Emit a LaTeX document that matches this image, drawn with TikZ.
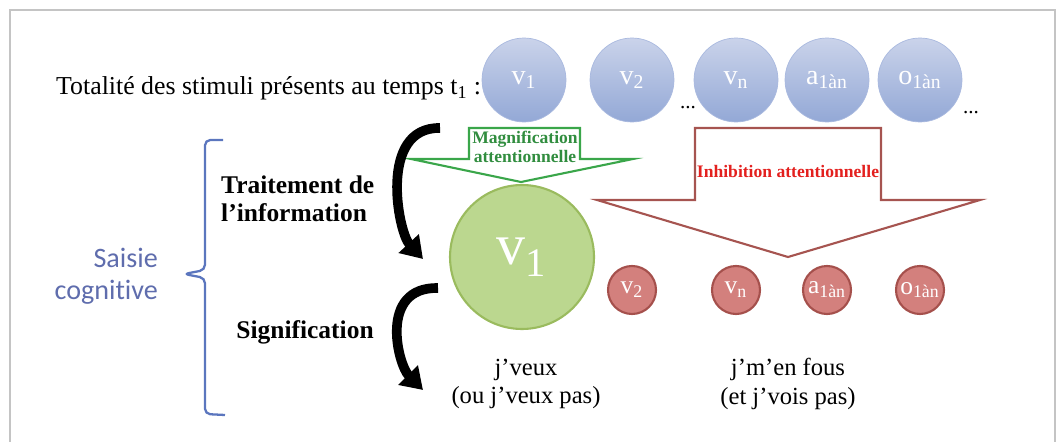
\documentclass[tikz,border=0pt]{standalone}
\usepackage{fontspec}
\setmainfont{Liberation Serif}
\newfontfamily\calib[Ligatures=NoCommon]{Carlito}
\usetikzlibrary{arrows.meta,positioning}
\definecolor{bluetop}{HTML}{CAD3EA}
\definecolor{bluebot}{HTML}{93A8D6}
\definecolor{bluerim}{HTML}{A9B9DF}
\definecolor{greenfill}{HTML}{BBD78F}
\definecolor{greenrim}{HTML}{9ABB5E}
\definecolor{redfill}{HTML}{D3807D}
\definecolor{redrim}{HTML}{A5504C}
\definecolor{magline}{HTML}{3AA64A}
\definecolor{inhline}{HTML}{A65450}
\definecolor{inhtext}{HTML}{E3201E}
\definecolor{saisie}{HTML}{5F6DAD}
\definecolor{brace}{HTML}{5B76BE}
\definecolor{frame}{HTML}{C4C4C4}
\begin{document}
\begin{tikzpicture}[x=0.02cm,y=-0.02cm,>=Stealth,
  stim/.style={circle,draw=bluerim,top color=bluetop,bottom color=bluebot,minimum size=1.68cm,inner sep=0pt,text=white,font=\fontsize{16}{16}\selectfont},
  kept/.style={circle,draw=greenrim,line width=1.2pt,fill=greenfill,minimum size=2.88cm,inner sep=0pt,text=white,font=\fontsize{33}{33}\selectfont},
  lost/.style={circle,draw=redrim,line width=1.2pt,fill=redfill,minimum size=0.96cm,inner sep=0pt,text=white,font=\fontsize{14.5}{14.5}\selectfont},
  etape/.style={font=\fontsize{14.5}{16}\selectfont\bfseries,align=left},
  bigarrow/.style={line width=5.5pt,-{Triangle[length=12pt,width=15pt]}}]
\useasboundingbox (0,0) rectangle (1057,442);
\draw[frame,line width=1.5pt] (10,445) -- (10,10) -- (1055,10) -- (1055,445);
% stimuli at t1
\node (titre) [anchor=west,font=\fontsize{14.7}{16}\selectfont] at (50,88) {Totalité des stimuli présents au temps t\textsubscript{1} :};
\node (s1) [stim] at (524,80) {v\textsubscript{1}};
\node (s2) [stim] at (632,80) {v\textsubscript{2}};
\node (sn) [stim] at (736,80) {v\textsubscript{n}};
\node (sa) [stim] at (827,80) {a\textsubscript{1àn}};
\node (so) [stim] at (920,80) {o\textsubscript{1àn}};
\node (dots1) [font=\fontsize{12}{12}\selectfont] at (688,108) {...};
\node (dots2) [font=\fontsize{12}{12}\selectfont] at (971,113) {...};
% attentional arrows
\draw[magline,line width=1.2pt] (469,128) -- (580,128) -- (580,159) -- (633,159) -- (521,182) -- (411,159) -- (469,159) -- cycle;
\node (mag) [magline!85!black,font=\fontsize{10}{10.5}\selectfont\bfseries,align=center] at (525,147) {Magnification\\attentionnelle};
\draw[inhline,line width=1.2pt] (695,128) -- (881,128) -- (881,200) -- (980,200) -- (788,257) -- (597,200) -- (695,200) -- cycle;
\node (inh) [inhtext,font=\fontsize{10}{10.5}\selectfont\bfseries] at (788,171) {Inhibition attentionnelle};
% selected / ignored
\node (g1) [kept] at (522,257) {v\textsubscript{1}};
\node (r2) [lost] at (632,290) {v\textsubscript{2}};
\node (rn) [lost] at (736,290) {v\textsubscript{n}};
\node (ra) [lost] at (827,290) {a\textsubscript{1àn}};
\node (ro) [lost] at (920,290) {o\textsubscript{1àn}};
\node (veux) [font=\fontsize{14}{16}\selectfont,align=center] at (526,384) {j’veux\\(ou j’veux pas)};
\node (fous) [font=\fontsize{14}{16}\selectfont,align=center] at (788,384) {j’m’en fous\\(et j’vois pas)};
% steps
\node (trait) [etape,anchor=west] at (215,199) {Traitement de\\l’information};
\node (sign) [etape] at (305,332) {Signification};
\coordinate (a1) at (440,128); \coordinate (b1) at (423,259);
\coordinate (a2) at (438,288); \coordinate (b2) at (423,390);
\draw[bigarrow] (a1) .. controls (378,127) and (398,232) .. (b1);
\draw[bigarrow] (a2) .. controls (378,287) and (398,365) .. (b2);
% brace
\node (saisie) [saisie,anchor=east,font=\calib\fontsize{16}{18.5}\selectfont,align=right] at (164,276) {Saisie\\cognitive};
\draw[brace,line width=1.3pt,rounded corners=3pt] (223,140) -- (205,140) -- (205,270) -- (184,274) -- (205,278) -- (205,414) -- (225,415);
\end{tikzpicture}
\end{document}
